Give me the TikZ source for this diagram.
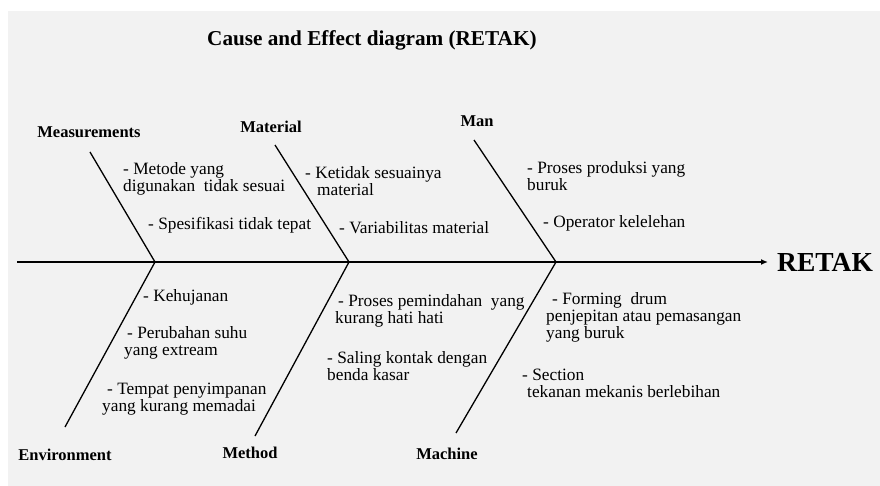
\documentclass[tikz,border=0pt]{standalone}
\usepackage{fontspec}
\setmainfont{Liberation Serif}[BoldFont={Liberation Serif Bold}]
\usetikzlibrary{arrows.meta}
\definecolor{bg}{HTML}{F2F2F2}
\begin{document}
\begin{tikzpicture}[x=1pt,y=-1pt,
  cause/.style={anchor=west, inner sep=0pt, align=left, font=\fontsize{17.3}{17}\selectfont},
  cat/.style={inner sep=0pt, font=\bfseries\fontsize{16.5}{17}\selectfont},
  bone/.style={line width=1.3pt},
  spine/.style={line width=1.8pt, -{Latex[length=7pt,width=6pt]}}]
\useasboundingbox (0,0) rectangle (880,486);
\fill[white] (0,0) rectangle (880,486);
\fill[bg] (8,11) rectangle (880,486);
% title
\node[anchor=west, inner sep=0pt, font=\bfseries\fontsize{21.2}{22}\selectfont] (title) at (207,40) {Cause and Effect diagram (RETAK)};
% spine
\coordinate (s0) at (17,262);
\coordinate (j1) at (155,262);
\coordinate (j2) at (349,262);
\coordinate (j3) at (556,262);
\node[anchor=west, inner sep=0pt, font=\bfseries\fontsize{27.5}{30}\selectfont] (effect) at (777,262) {RETAK};
\draw[spine] (s0) -- (effect.west -| 768,0);
% bone ends
\coordinate (t1) at (90,152);
\coordinate (t2) at (275,145);
\coordinate (t3) at (474,140);
\coordinate (b1) at (65,427);
\coordinate (b2) at (255,436);
\coordinate (b3) at (456,433);
\draw[bone] (t1) -- (j1);
\draw[bone] (t2) -- (j2);
\draw[bone] (t3) -- (j3);
\draw[bone] (j1) -- (b1);
\draw[bone] (j2) -- (b2);
\draw[bone] (j3) -- (b3);
% categories
\node[cat] (meas) at (89,132) {Measurements};
\node[cat] (mat) at (271,127) {Material};
\node[cat] (man) at (477,121) {Man};
\node[cat] (env) at (65,455) {Environment};
\node[cat] (meth) at (250,453) {Method};
\node[cat] (mach) at (447,454) {Machine};
% causes: measurements
\node[cause] (c11) at (123,179) {- Metode yang\\digunakan\ \ tidak sesuai};
\node[cause] (c12) at (148,225) {- Spesifikasi tidak tepat};
% material
\node[cause] (c21) at (305,181) {- Ketidak sesuainya\\\hspace*{12pt}material};
\node[cause] (c22) at (339,228) {- Variabilitas material};
% man
\node[cause] (c31) at (527,176) {- Proses produksi yang\\buruk};
\node[cause] (c32) at (543,223) {- Operator kelelehan};
% environment
\node[cause] (c41) at (143,297) {- Kehujanan};
\node[cause] (c42) at (124,343) {\hspace*{3pt}- Perubahan suhu\\yang extream};
\node[cause] (c43) at (102,399) {\hspace*{5pt}- Tempat penyimpanan\\yang kurang memadai};
% method
\node[cause] (c51) at (335,311) {\hspace*{3pt}- Proses pemindahan\ \ yang\\kurang hati hati};
\node[cause] (c52) at (327,366) {- Saling kontak dengan\\benda kasar};
% machine
\node[cause] (c61) at (546,317) {\hspace*{6pt}- Forming\ \ drum\\penjepitan atau pemasangan\\yang buruk};
\node[cause] (c62) at (522,383) {- Section\\\hspace*{5pt}tekanan mekanis berlebihan};
\end{tikzpicture}
\end{document}
